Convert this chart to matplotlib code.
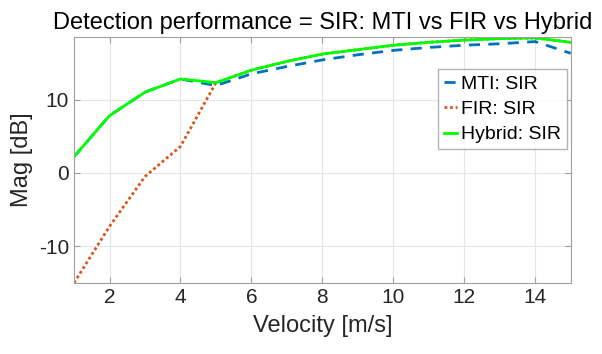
import matplotlib.pyplot as plt
import numpy as np

velocity = [1, 2, 3, 4, 5, 6, 7, 8, 9, 10, 11, 12, 13, 14, 15]
mti_sir = [2.2, 7.8, 11.0, 12.8, 11.9, 13.5, 14.5, 15.4, 16.1, 16.7, 17.1, 17.4, 17.6, 17.9, 16.3]
fir_sir = [-15.0, -7.3, -0.5, 3.6, 12.3, 14.0, 15.2, 16.2, 16.8, 17.4, 17.8, 18.1, 18.3, 18.4, 17.8]
hybrid_sir = [2.2, 7.8, 11.0, 12.8, 12.3, 14.0, 15.2, 16.2, 16.8, 17.4, 17.8, 18.1, 18.3, 18.4, 17.8]

plt.rcParams['font.family'] = ['Liberation Sans', 'DejaVu Sans']
plt.rcParams['axes.unicode_minus'] = False

fig = plt.figure(figsize=(6.02, 3.54), dpi=100)
ax = fig.add_axes([0.123, 0.201, 0.825, 0.694])

ax.plot(velocity, mti_sir, color="#0072BD", linestyle=(0, (4, 3)), lw=2, label="MTI: SIR")
ax.plot(velocity, fir_sir, color="#D95319", linestyle=(0, (1, 1)), lw=2, label="FIR: SIR")
ax.plot(velocity, hybrid_sir, color="#00FF00", lw=2, label="Hybrid: SIR")

ax.set_xlim(1, 15)
ax.set_ylim(-15, 18.5)
ax.set_xticks([2, 4, 6, 8, 10, 12, 14])
ax.set_yticks([-10, 0, 10])
ax.grid(True, color="#e6e6e6", lw=0.8)
ax.set_axisbelow(True)
for s in ax.spines.values():
    s.set_color("#a0a0a0")
ax.tick_params(direction="in", top=True, right=True, colors="#a0a0a0",
               labelcolor="#262626", labelsize=15, length=4)

ax.set_title("Detection performance = SIR: MTI vs FIR vs Hybrid", fontsize=17, pad=6)
ax.set_xlabel("Velocity [m/s]", fontsize=17, color="#262626", labelpad=6)
ax.set_ylabel("Mag [dB]", fontsize=17, color="#262626")

leg = ax.legend(loc="upper right", bbox_to_anchor=(0.993, 0.87), fontsize=14,
                fancybox=False, handlelength=0.7, handletextpad=0.2,
                borderpad=0.3, labelspacing=0.4, borderaxespad=0)
leg.get_frame().set_edgecolor("#a0a0a0")
leg.get_frame().set_linewidth(1.0)

fig.savefig("out.png", dpi=100)
